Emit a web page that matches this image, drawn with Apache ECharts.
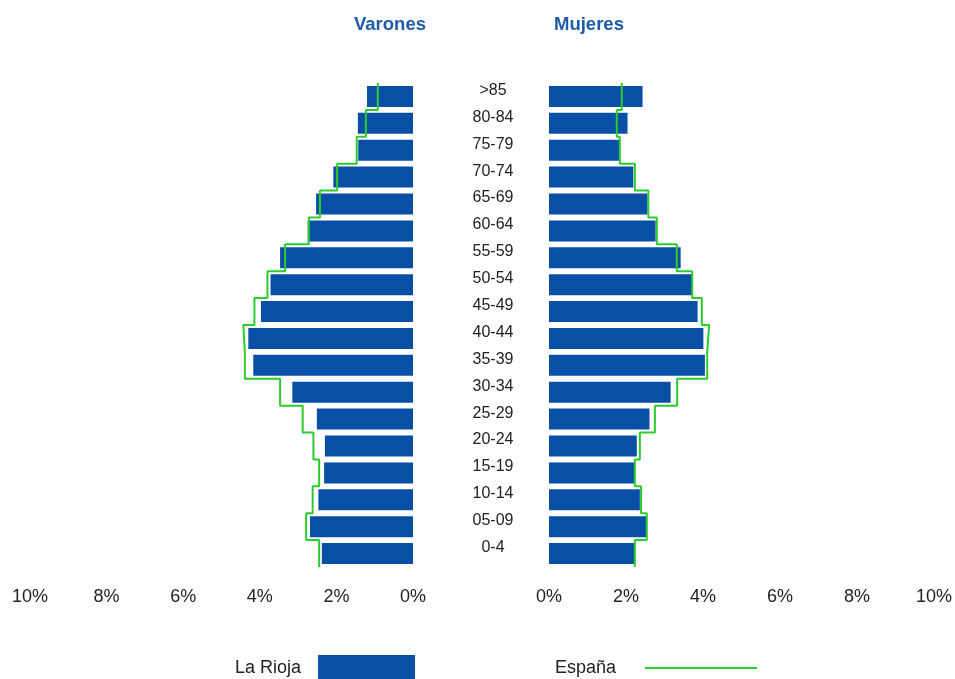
<!DOCTYPE html>
<html>
<head>
<meta charset="utf-8">
<script src="https://cdn.jsdelivr.net/npm/echarts@6/dist/echarts.min.js"></script>
<style>
html,body{margin:0;padding:0;background:#fff;}
#chart{width:955px;height:679px;}
</style>
</head>
<body>
<div id="chart"></div>
<script>
// Age groups, bottom to top
var categories = ['0-4','05-09','10-14','15-19','20-24','25-29','30-34','35-39','40-44','45-49','50-54','55-59','60-64','65-69','70-74','75-79','80-84','>85'];
// La Rioja (% of population)
var riojaMen   = [2.38,2.69,2.47,2.32,2.30,2.51,3.15,4.17,4.30,3.97,3.72,3.47,2.75,2.53,2.08,1.43,1.44,1.20];
var riojaWomen = [2.22,2.52,2.36,2.21,2.28,2.61,3.16,4.05,4.01,3.86,3.73,3.42,2.77,2.56,2.19,1.82,2.04,2.43];
// España (% of population)
var spainMen   = [2.45,2.79,2.62,2.45,2.60,2.88,3.47,4.39,4.43,4.14,3.80,3.34,2.72,2.43,1.98,1.47,1.23,0.92];
var spainWomen = [2.23,2.54,2.39,2.23,2.36,2.75,3.33,4.11,4.16,3.97,3.72,3.32,2.80,2.58,2.23,1.84,1.76,1.89];
var tickValues = [0,2,4,6,8,10];

function stepPath(vals){
  var pts = [];
  for (var i = 0; i < vals.length; i++){
    pts.push([vals[i], i - 0.5]);
    pts.push([vals[i], i + 0.5]);
  }
  return pts;
}

var barColor = '#0A4FA6';
var lineColor = '#2DCC2D';
var n = categories.length;
var font = 'Liberation Sans';

var chart = echarts.init(document.getElementById('chart'));
var option = {
  backgroundColor: '#fff',
  animation: false,
  title: [
    {text: 'Varones', left: 349, top: 10, textStyle: {fontFamily: font, fontSize: 18.5, fontWeight: 'bold', color: '#1F5BA8'}},
    {text: 'Mujeres', left: 549, top: 10, textStyle: {fontFamily: font, fontSize: 18.5, fontWeight: 'bold', color: '#1F5BA8'}}
  ],
  legend: [
    {data: ['La Rioja'], left: 230, top: 650, align: 'right', icon: 'rect', itemWidth: 97, itemHeight: 26,
     textStyle: {fontFamily: font, fontSize: 18, color: '#222', padding: [0, 12, 0, 0]}},
    {data: ['España'], left: 550, top: 654, align: 'right', icon: 'rect', itemWidth: 112, itemHeight: 2,
     textStyle: {fontFamily: font, fontSize: 18, color: '#222', padding: [0, 24, 0, 0]}}
  ],
  grid: [
    {left: 30, width: 383, top: 83, height: 484},
    {left: 549, width: 385, top: 83, height: 484}
  ],
  xAxis: [
    {gridIndex: 0, type: 'value', inverse: true, min: tickValues[0], max: tickValues[tickValues.length - 1], interval: 2,
     axisLine: {show: false}, axisTick: {show: false}, splitLine: {show: false},
     axisLabel: {formatter: '{value}%', margin: 21, fontFamily: font, fontSize: 18, color: '#222'}},
    {gridIndex: 1, type: 'value', min: tickValues[0], max: tickValues[tickValues.length - 1], interval: 2,
     axisLine: {show: false}, axisTick: {show: false}, splitLine: {show: false},
     axisLabel: {formatter: '{value}%', margin: 21, fontFamily: font, fontSize: 18, color: '#222'}}
  ],
  yAxis: [
    {gridIndex: 0, type: 'category', data: categories, show: false},
    {gridIndex: 0, type: 'value', min: -0.5, max: n - 0.5, show: false},
    {gridIndex: 1, type: 'category', data: categories, position: 'left',
     axisLine: {show: false}, axisTick: {show: false},
     axisLabel: {margin: 56, align: 'center', verticalAlign: 'bottom', lineHeight: 12, fontFamily: font, fontSize: 16, color: '#222'}},
    {gridIndex: 1, type: 'value', min: -0.5, max: n - 0.5, show: false}
  ],
  series: [
    {name: 'La Rioja', type: 'bar', xAxisIndex: 0, yAxisIndex: 0, data: riojaMen,
     barCategoryGap: '22%', itemStyle: {color: barColor}},
    {name: 'La Rioja', type: 'bar', xAxisIndex: 1, yAxisIndex: 2, data: riojaWomen,
     barCategoryGap: '22%', itemStyle: {color: barColor}},
    {name: 'España', type: 'line', xAxisIndex: 0, yAxisIndex: 1, data: stepPath(spainMen),
     symbol: 'none', z: 5, lineStyle: {color: lineColor, width: 2}, itemStyle: {color: lineColor}},
    {name: 'España', type: 'line', xAxisIndex: 1, yAxisIndex: 3, data: stepPath(spainWomen),
     symbol: 'none', z: 5, lineStyle: {color: lineColor, width: 2}, itemStyle: {color: lineColor}}
  ]
};
chart.setOption(option);
</script>
</body>
</html>
